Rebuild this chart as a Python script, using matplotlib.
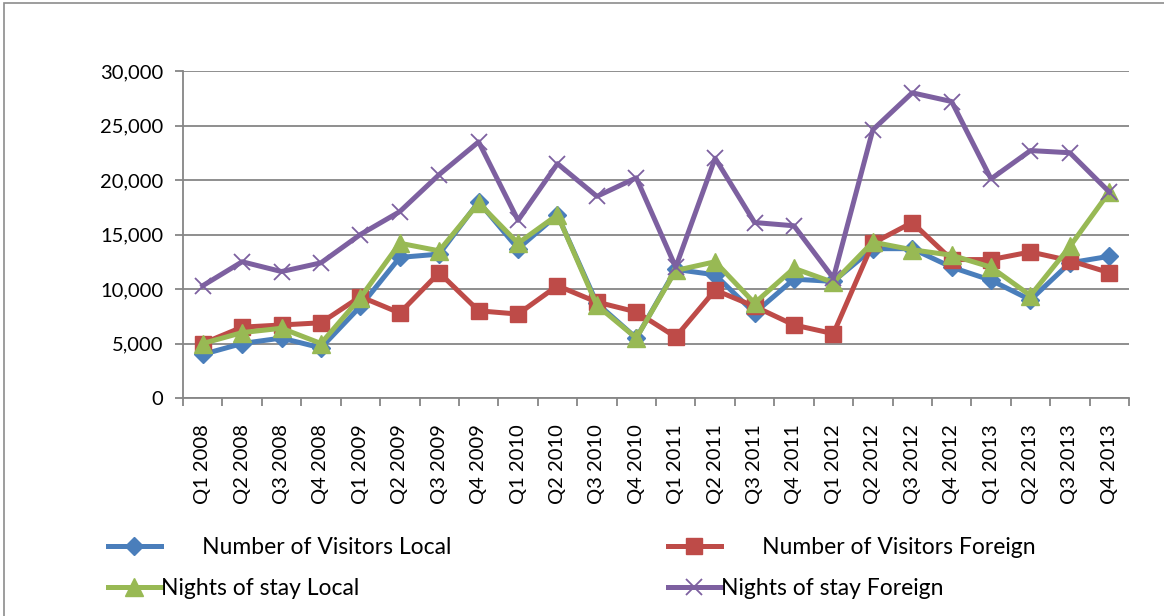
import matplotlib
matplotlib.use('Agg')
import matplotlib.pyplot as plt
from matplotlib.patches import Rectangle
import numpy as np

plt.rcParams['font.family'] = ['Lato', 'DejaVu Sans']

quarters = ['Q1 2008', 'Q2 2008', 'Q3 2008', 'Q4 2008',
            'Q1 2009', 'Q2 2009', 'Q3 2009', 'Q4 2009',
            'Q1 2010', 'Q2 2010', 'Q3 2010', 'Q4 2010',
            'Q1 2011', 'Q2 2011', 'Q3 2011', 'Q4 2011',
            'Q1 2012', 'Q2 2012', 'Q3 2012', 'Q4 2012',
            'Q1 2013', 'Q2 2013', 'Q3 2013', 'Q4 2013']

visitors_local = [4000, 5000, 5500, 4600, 8400, 12900, 13200, 18000,
                  13700, 16800, 8700, 5500, 11800, 11300, 7800, 10900,
                  10700, 13700, 13700, 12000, 10800, 9000, 12400, 13000]
visitors_foreign = [5000, 6500, 6700, 6900, 9300, 7800, 11500, 8000,
                    7700, 10300, 8800, 7900, 5600, 9900, 8400, 6700,
                    5900, 14200, 16100, 12700, 12700, 13400, 12600, 11500]
nights_local = [5000, 6000, 6400, 5000, 9200, 14200, 13500, 17900,
                14200, 16800, 8500, 5500, 11700, 12500, 8700, 11900,
                10600, 14300, 13600, 13100, 12000, 9400, 13900, 18900]
nights_foreign = [10300, 12500, 11600, 12400, 15000, 17100, 20500, 23500,
                  16300, 21500, 18500, 20200, 12000, 22000, 16100, 15800,
                  11000, 24600, 28000, 27200, 20100, 22700, 22500, 18900]

labels = ['       Number of Visitors Local', '       Number of Visitors Foreign',
          'Nights of stay Local', 'Nights of stay Foreign']

c_blue = '#4A7EBB'
c_red = '#BE4B48'
c_green = '#98B954'
c_purple = '#7D60A0'

fig = plt.figure(figsize=(11.64, 6.16), dpi=100)
W, H = 1164, 616
ax = fig.add_axes([183 / W, 1 - 398 / H, (1129 - 183) / W, (398 - 71) / H])

# outer chart border (only top/left visible in the reference)
fig.patches.append(Rectangle((4 / W, -0.1), 1.2, 1 - 3 / H + 0.1, transform=fig.transFigure,
                             fill=False, edgecolor='#8c8c8c', linewidth=1.2))

x = np.arange(len(quarters))
lw = 3.6
l1, = ax.plot(x, visitors_local, color=c_blue, lw=lw, marker='D', ms=9, label=labels[0])
l2, = ax.plot(x, visitors_foreign, color=c_red, lw=lw, marker='s', ms=12, label=labels[1])
l3, = ax.plot(x, nights_local, color=c_green, lw=lw, marker='^', ms=13, label=labels[2])
l4, = ax.plot(x, nights_foreign, color=c_purple, lw=lw, marker='x', ms=12, mew=1.3, label=labels[3])

ax.set_xlim(-0.5, len(quarters) - 0.5)
ax.set_ylim(0, 30000)
ax.set_yticks(range(0, 30001, 5000))
ax.set_yticklabels(['{:,}'.format(v) for v in range(0, 30001, 5000)], fontsize=14.5)
ax.set_xticks(x)
ax.set_xticklabels(quarters, rotation=90, fontsize=14.5)
ax.set_xticks(np.arange(-0.5, len(quarters)), minor=True)
ax.tick_params(axis='x', which='major', length=0, pad=19)
ax.tick_params(axis='x', which='minor', length=6, width=1.3, color='#868686')
ax.tick_params(axis='y', length=6, width=1.3, color='#868686', pad=8)

ax.grid(axis='y', color='#868686', linewidth=1.3)
ax.set_axisbelow(True)
for s in ['top', 'right']:
    ax.spines[s].set_visible(False)
for s in ['left', 'bottom']:
    ax.spines[s].set_color('#868686')
    ax.spines[s].set_linewidth(1.3)

leg_kw = dict(loc='upper left', frameon=False, fontsize=16.5, handlelength=2.3,
              handletextpad=0.0, labelspacing=0.88, borderaxespad=0, borderpad=0)
leg1 = fig.legend(handles=[l1, l3], labels=[labels[0], labels[2]],
                  bbox_to_anchor=(108 / W, 1 - 537 / H), **leg_kw)
leg2 = fig.legend(handles=[l2, l4], labels=[labels[1], labels[3]],
                  bbox_to_anchor=(668 / W, 1 - 537 / H), **leg_kw)

fig.savefig('out.png', dpi=100)
